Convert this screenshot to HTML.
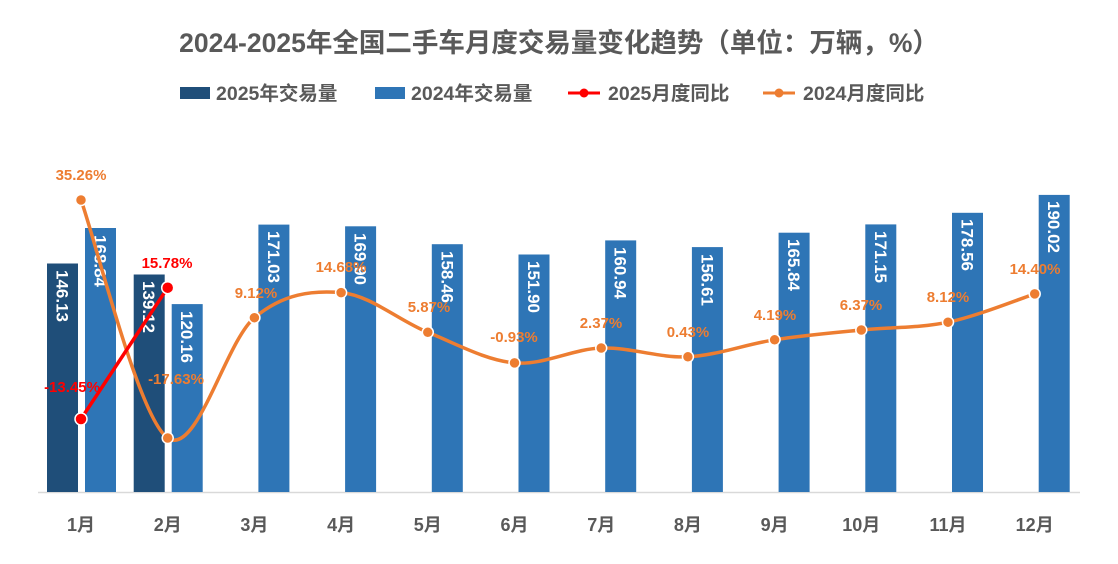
<!DOCTYPE html>
<html><head><meta charset="utf-8"><style>
html,body{margin:0;padding:0;background:#fff;}
svg{display:block;font-family:"Liberation Sans","Noto Sans CJK SC",sans-serif;}
</style></head><body>
<svg width="1118" height="564" viewBox="0 0 1118 564">
<text x="559" y="52" text-anchor="middle" font-size="26.5" font-weight="bold" fill="#595959">2024-2025年全国二手车月度交易量变化趋势（单位：万辆，%）</text>
<g font-size="19.5" font-weight="bold" fill="#595959">
<rect x="180" y="87" width="30" height="12" fill="#1F4E79"/><text x="216" y="100">2025年交易量</text>
<rect x="375" y="87" width="30" height="12" fill="#2E75B6"/><text x="411" y="100">2024年交易量</text>
<line x1="568" y1="93" x2="600" y2="93" stroke="#FF0000" stroke-width="3"/><circle cx="584" cy="93" r="4.5" fill="#FF0000"/><text x="608" y="100">2025月度同比</text>
<line x1="763" y1="93" x2="795" y2="93" stroke="#ED7D31" stroke-width="3"/><circle cx="779" cy="93" r="4.5" fill="#ED7D31"/><text x="803" y="100">2024月度同比</text>
</g>
<line x1="38" y1="492.5" x2="1080" y2="492.5" stroke="#D9D9D9" stroke-width="1.5"/>
<g fill="#1F4E79">
<rect x="47" y="263.5" width="31" height="228.5"/>
<rect x="133.7" y="274.5" width="31" height="217.5"/>
</g>
<g fill="#2E75B6">
<rect x="85" y="228" width="31" height="264"/>
<rect x="171.7" y="304.1" width="31" height="187.9"/>
<rect x="258.4" y="224.6" width="31" height="267.4"/>
<rect x="345.1" y="226.3" width="31" height="265.7"/>
<rect x="431.8" y="244.2" width="31" height="247.8"/>
<rect x="518.5" y="254.5" width="31" height="237.5"/>
<rect x="605.2" y="240.4" width="31" height="251.6"/>
<rect x="691.9" y="247.1" width="31" height="244.9"/>
<rect x="778.6" y="232.7" width="31" height="259.3"/>
<rect x="865.3" y="224.4" width="31" height="267.6"/>
<rect x="952" y="212.8" width="31" height="279.2"/>
<rect x="1038.7" y="194.9" width="31" height="297.1"/>
</g>
<g font-size="17" font-weight="bold" fill="#fff">
<text transform="translate(56.5,270) rotate(90)">146.13</text>
<text transform="translate(94.5,235) rotate(90)">168.84</text>
<text transform="translate(143.2,281) rotate(90)">139.12</text>
<text transform="translate(181.2,311) rotate(90)">120.16</text>
<text transform="translate(267.9,231) rotate(90)">171.03</text>
<text transform="translate(354.6,233) rotate(90)">169.90</text>
<text transform="translate(441.3,251) rotate(90)">158.46</text>
<text transform="translate(528,261) rotate(90)">151.90</text>
<text transform="translate(614.7,247) rotate(90)">160.94</text>
<text transform="translate(701.4,254) rotate(90)">156.61</text>
<text transform="translate(788.1,239) rotate(90)">165.84</text>
<text transform="translate(874.8,231) rotate(90)">171.15</text>
<text transform="translate(961.5,219) rotate(90)">178.56</text>
<text transform="translate(1048.2,201) rotate(90)">190.02</text>
</g>
<path d="M81,200 C95.45,239.7 138.8,418.4 167.7,438 C196.6,457.6 225.5,341.9 254.4,317.7 C283.3,293.5 312.2,290.2 341.1,292.6 C370,295 398.9,320.6 427.8,332.3 C456.7,344 485.6,360.3 514.5,362.9 C543.4,365.5 572.3,349 601.2,348 C630.1,347 659,358.2 687.9,356.8 C716.8,355.4 745.7,344.3 774.6,339.8 C803.5,335.3 832.4,332.9 861.3,330 C890.2,327.1 919.1,328.2 948,322.2 C976.9,316.2 1020.25,298.6 1034.7,293.9" fill="none" stroke="#ED7D31" stroke-width="3.5"/>
<g fill="#ED7D31" stroke="#fff" stroke-width="1.5">
<circle cx="81" cy="200" r="5.5"/><circle cx="167.7" cy="438" r="5.5"/><circle cx="254.4" cy="317.7" r="5.5"/>
<circle cx="341.1" cy="292.6" r="5.5"/><circle cx="427.8" cy="332.3" r="5.5"/><circle cx="514.5" cy="362.9" r="5.5"/>
<circle cx="601.2" cy="348" r="5.5"/><circle cx="687.9" cy="356.8" r="5.5"/><circle cx="774.6" cy="339.8" r="5.5"/>
<circle cx="861.3" cy="330" r="5.5"/><circle cx="948" cy="322.2" r="5.5"/><circle cx="1034.7" cy="293.9" r="5.5"/>
</g>
<line x1="81" y1="419" x2="167.7" y2="287.7" stroke="#FF0000" stroke-width="3.5"/>
<circle cx="81" cy="419" r="6" fill="#FF0000" stroke="#fff" stroke-width="1.5"/>
<circle cx="167.7" cy="287.7" r="6" fill="#FF0000" stroke="#fff" stroke-width="1.5"/>
<g font-size="15" font-weight="bold" fill="#ED7D31" text-anchor="middle">
<text x="81" y="180">35.26%</text>
<text x="176" y="384">-17.63%</text>
<text x="256" y="298">9.12%</text>
<text x="341" y="272">14.68%</text>
<text x="429" y="312">5.87%</text>
<text x="514" y="342">-0.93%</text>
<text x="601" y="328">2.37%</text>
<text x="688" y="337">0.43%</text>
<text x="775" y="320">4.19%</text>
<text x="861" y="310">6.37%</text>
<text x="948" y="302">8.12%</text>
<text x="1035" y="274">14.40%</text>
</g>
<g font-size="15" font-weight="bold" fill="#FF0000" text-anchor="middle">
<text x="72" y="392">-13.45%</text>
<text x="167" y="268">15.78%</text>
</g>
<g font-size="18" font-weight="bold" fill="#595959" text-anchor="middle">
<text x="81" y="531">1月</text><text x="167.7" y="531">2月</text><text x="254.4" y="531">3月</text>
<text x="341.1" y="531">4月</text><text x="427.8" y="531">5月</text><text x="514.5" y="531">6月</text>
<text x="601.2" y="531">7月</text><text x="687.9" y="531">8月</text><text x="774.6" y="531">9月</text>
<text x="861.3" y="531">10月</text><text x="948" y="531">11月</text><text x="1034.7" y="531">12月</text>
</g>
</svg>
</body></html>
